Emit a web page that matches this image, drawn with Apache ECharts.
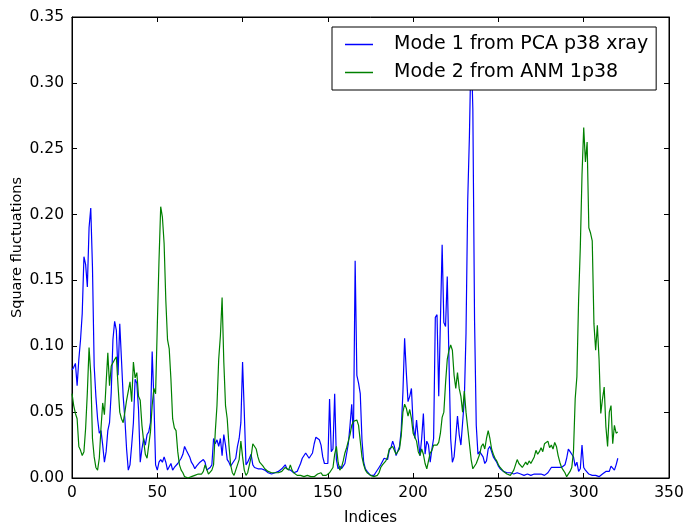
<!DOCTYPE html>
<html><head><meta charset="utf-8">
<script src="https://cdn.jsdelivr.net/npm/echarts@6/dist/echarts.min.js"></script>
<style>html,body{margin:0;padding:0;background:#fff}#c{width:683px;height:525px}</style>
</head><body><div id="c"></div>
<script>
const seriesNames = ["Mode 1 from PCA p38 xray", "Mode 2 from ANM 1p38"];
const xTicks = [0, 50, 100, 150, 200, 250, 300, 350];
const yTicks = [0.00, 0.05, 0.10, 0.15, 0.20, 0.25, 0.30, 0.35];
const mode1 = [
0.082,0.084,0.087,0.070,0.090,0.105,0.125,0.168,0.162,0.145,
0.190,0.205,0.160,0.085,0.062,0.045,0.034,0.036,0.025,0.012,
0.020,0.036,0.042,0.065,0.105,0.119,0.112,0.078,0.117,0.090,
0.062,0.045,0.022,0.006,0.010,0.025,0.042,0.075,0.072,0.052,
0.012,0.022,0.030,0.025,0.033,0.035,0.042,0.096,0.060,0.010,
0.006,0.012,0.014,0.012,0.016,0.012,0.006,0.005,0.011,0.006,
0.008,0.009,0.011,0.010,0.015,0.018,0.024,0.021,0.020,0.016,
0.012,0.010,0.007,0.009,0.010,0.012,0.013,0.014,0.012,0.006,
0.005,0.008,0.010,0.030,0.026,0.029,0.024,0.030,0.017,0.033,
0.025,0.014,0.012,0.009,0.011,0.010,0.015,0.024,0.030,0.042,
0.088,0.050,0.010,0.012,0.012,0.018,0.010,0.008,0.009,0.007,
0.008,0.007,0.006,0.006,0.005,0.004,0.004,0.003,0.004,0.004,
0.005,0.005,0.006,0.007,0.006,0.010,0.007,0.008,0.006,0.005,
0.004,0.004,0.005,0.006,0.011,0.015,0.016,0.019,0.020,0.015,
0.014,0.019,0.026,0.031,0.032,0.029,0.025,0.016,0.011,0.011,
0.011,0.060,0.020,0.022,0.064,0.014,0.007,0.009,0.007,0.009,
0.011,0.012,0.026,0.040,0.056,0.030,0.165,0.078,0.072,0.064,
0.029,0.012,0.007,0.005,0.004,0.002,0.002,0.002,0.004,0.005,
0.008,0.010,0.011,0.015,0.016,0.014,0.021,0.023,0.028,0.024,
0.017,0.018,0.024,0.036,0.065,0.106,0.080,0.058,0.062,0.068,
0.040,0.030,0.044,0.030,0.017,0.030,0.049,0.018,0.028,0.025,
0.012,0.022,0.030,0.122,0.124,0.062,0.120,0.177,0.118,0.115,
0.153,0.090,0.030,0.012,0.016,0.031,0.047,0.033,0.025,0.042,
0.059,0.110,0.211,0.260,0.330,0.280,0.120,0.040,0.018,0.020,
0.019,0.016,0.011,0.013,0.022,0.024,0.020,0.016,0.014,0.012,
0.009,0.007,0.006,0.005,0.005,0.004,0.004,0.004,0.003,0.003,
0.003,0.004,0.003,0.003,0.002,0.002,0.002,0.003,0.003,0.002,
0.003,0.003,0.002,0.003,0.003,0.003,0.003,0.002,0.002,0.004,
0.005,0.008,0.007,0.008,0.009,0.008,0.009,0.008,0.007,0.010,
0.015,0.022,0.020,0.018,0.016,0.009,0.012,0.005,0.007,0.025,
0.008,0.006,0.005,0.003,0.002,0.002,0.002,0.002,0.002,0.001,
0.002,0.003,0.004,0.005,0.005,0.005,0.009,0.010,0.006,0.010,
0.015];
const mode2 = [
0.064,0.055,0.049,0.045,0.024,0.021,0.017,0.020,0.038,0.065,
0.099,0.079,0.030,0.016,0.008,0.006,0.015,0.038,0.057,0.048,
0.072,0.095,0.070,0.085,0.086,0.090,0.092,0.070,0.050,0.045,
0.042,0.050,0.059,0.058,0.073,0.058,0.088,0.076,0.080,0.062,
0.059,0.040,0.028,0.018,0.015,0.014,0.035,0.055,0.068,0.064,
0.115,0.165,0.206,0.198,0.178,0.135,0.105,0.098,0.075,0.045,
0.038,0.036,0.020,0.010,0.006,0.004,0.001,0.001,0.000,0.001,
0.001,0.002,0.002,0.003,0.003,0.003,0.003,0.005,0.010,0.009,
0.003,0.002,0.006,0.010,0.035,0.055,0.090,0.108,0.137,0.088,
0.055,0.045,0.025,0.010,0.004,0.002,0.006,0.010,0.014,0.028,
0.016,0.006,0.002,0.004,0.010,0.016,0.026,0.025,0.022,0.016,
0.012,0.011,0.009,0.007,0.006,0.005,0.004,0.004,0.004,0.004,
0.005,0.004,0.004,0.005,0.006,0.008,0.009,0.006,0.010,0.006,
0.004,0.003,0.002,0.002,0.002,0.001,0.001,0.002,0.002,0.001,
0.001,0.001,0.001,0.002,0.003,0.004,0.004,0.002,0.001,0.002,
0.003,0.004,0.004,0.008,0.018,0.024,0.012,0.006,0.008,0.013,
0.019,0.023,0.028,0.033,0.040,0.043,0.044,0.044,0.040,0.028,
0.016,0.010,0.006,0.004,0.003,0.002,0.001,0.001,0.001,0.002,
0.004,0.008,0.010,0.011,0.013,0.016,0.022,0.023,0.024,0.023,
0.018,0.017,0.022,0.032,0.050,0.056,0.053,0.047,0.052,0.045,
0.034,0.033,0.028,0.020,0.017,0.022,0.018,0.011,0.007,0.013,
0.019,0.021,0.025,0.024,0.025,0.027,0.034,0.046,0.050,0.072,
0.090,0.097,0.101,0.097,0.078,0.068,0.080,0.068,0.062,0.050,
0.066,0.050,0.038,0.026,0.014,0.007,0.008,0.011,0.012,0.018,
0.024,0.026,0.022,0.030,0.036,0.030,0.022,0.018,0.015,0.013,
0.010,0.008,0.007,0.005,0.004,0.003,0.002,0.002,0.002,0.006,
0.010,0.014,0.011,0.010,0.008,0.008,0.012,0.010,0.013,0.011,
0.012,0.016,0.021,0.018,0.020,0.023,0.020,0.026,0.027,0.028,
0.023,0.025,0.022,0.027,0.024,0.017,0.012,0.008,0.006,0.004,
0.001,0.000,0.005,0.008,0.020,0.060,0.077,0.135,0.175,0.230,
0.266,0.240,0.255,0.190,0.186,0.180,0.117,0.097,0.116,0.090,
0.049,0.060,0.069,0.039,0.024,0.050,0.055,0.026,0.040,0.034,
0.035];

const toPairs = arr => arr.map((v, i) => [i, v]);
const font = 'DejaVu Sans';
const xmin = xTicks[0], xmax = xTicks[xTicks.length - 1];
const ymin = yTicks[0], ymax = yTicks[yTicks.length - 1];
const tickStyle = { inside: true, length: 5, lineStyle: { color: '#000', width: 1 } };
const lineStyle = { color: '#000', width: 1 };

const chart = echarts.init(document.getElementById('c'), null, { renderer: 'canvas' });
chart.setOption({
  animation: false,
  backgroundColor: '#fff',
  grid: { left: 72, right: 14, top: 17, bottom: 47, show: true, borderColor: '#000', borderWidth: 1,
          containLabel: false, outerBoundsMode: 'none' },
  xAxis: [
    { type: 'value', min: xmin, max: xmax, interval: 50, position: 'bottom',
      axisLine: { show: true, onZero: false, lineStyle }, axisTick: tickStyle, splitLine: { show: false },
      axisLabel: { color: '#000', fontFamily: font, fontSize: 15.5, margin: 7 },
      name: 'Indices', nameLocation: 'middle', nameGap: 33, nameMoveOverlap: false,
      nameTextStyle: { color: '#000', fontFamily: font, fontSize: 15 } },
    { type: 'value', min: xmin, max: xmax, interval: 50, position: 'top',
      axisLine: { show: true, onZero: false, lineStyle }, axisTick: tickStyle, splitLine: { show: false },
      axisLabel: { show: false } }
  ],
  yAxis: [
    { type: 'value', min: ymin, max: ymax, interval: 0.05, position: 'left',
      axisLine: { show: true, onZero: false, lineStyle }, axisTick: tickStyle, splitLine: { show: false },
      axisLabel: { color: '#000', fontFamily: font, fontSize: 15.5, margin: 8, formatter: v => v.toFixed(2) },
      name: 'Square fluctuations', nameLocation: 'middle', nameGap: 47, nameRotate: 90, nameMoveOverlap: false,
      nameTextStyle: { color: '#000', fontFamily: font, fontSize: 14.5 } },
    { type: 'value', min: ymin, max: ymax, interval: 0.05, position: 'right',
      axisLine: { show: true, onZero: false, lineStyle }, axisTick: tickStyle, splitLine: { show: false },
      axisLabel: { show: false } }
  ],
  legend: {
    orient: 'vertical', left: 332, top: 27,
    data: seriesNames,
    icon: 'rect', itemWidth: 28, itemHeight: 1.5, itemGap: 9,
    padding: [8, 8, 8, 13],
    backgroundColor: '#fff', borderColor: '#000', borderWidth: 1, borderRadius: 0,
    textStyle: { color: '#000', fontFamily: font, fontSize: 19, padding: [0, 0, 0, 16] }
  },
  series: [
    { name: seriesNames[0], type: 'line', data: toPairs(mode1), showSymbol: false, symbol: 'none',
      lineStyle: { color: '#0000ff', width: 1.2 }, itemStyle: { color: '#0000ff' }, clip: true, z: 2 },
    { name: seriesNames[1], type: 'line', data: toPairs(mode2), showSymbol: false, symbol: 'none',
      lineStyle: { color: '#008000', width: 1.2 }, itemStyle: { color: '#008000' }, clip: true, z: 3 }
  ]
});
</script></body></html>
